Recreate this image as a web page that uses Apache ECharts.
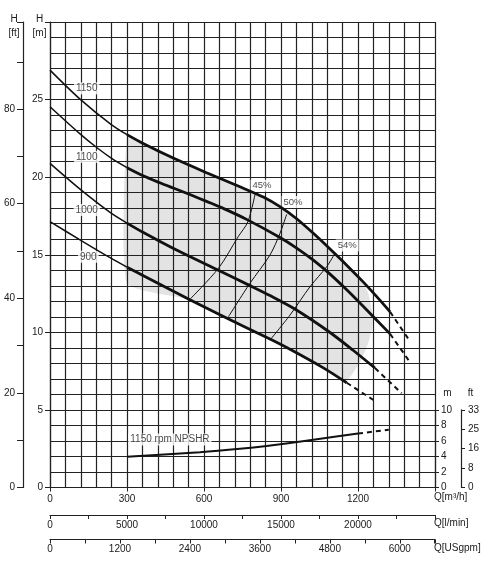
<!DOCTYPE html>
<html><head><meta charset="utf-8">
<script src="https://cdn.jsdelivr.net/npm/echarts@6/dist/echarts.min.js"></script>
<style>html,body{margin:0;padding:0;background:#fff}#c{width:484px;height:567px}</style>
</head><body><div id="c"></div>
<script>
// ---- data ----
const speeds = ['1150', '1100', '1000', '900'];
const q1150 = [0, 117, 240, 300, 363, 480, 610, 740, 831, 896, 961, 1026, 1091, 1156, 1220, 1286, 1325];
const h1150 = [26.9, 25.03, 23.37, 22.74, 22.17, 21.23, 20.29, 19.38, 18.72, 18.10, 17.32, 16.38, 15.37, 14.33, 13.25, 12.06, 11.32];
const q1100 = [0, 117, 182, 240, 300, 363, 428, 480, 545, 610, 675, 766, 896, 961, 1026, 1091, 1156, 1220, 1325];
const h1100 = [24.54, 22.79, 21.91, 21.21, 20.61, 20.09, 19.64, 19.30, 18.88, 18.44, 17.99, 17.28, 16.11, 15.43, 14.65, 13.75, 12.74, 11.68, 9.9];
const q1000 = [0, 117, 234, 300, 364, 493, 662, 779, 857, 954, 1091, 1182, 1266];
const h1000 = [20.89, 19.23, 17.73, 17.04, 16.43, 15.30, 13.95, 13.01, 12.37, 11.50, 9.99, 8.83, 7.7];
const q900 = [0, 117, 234, 300, 364, 545, 662, 857, 935, 1065, 1156];
const h900 = [17.13, 15.96, 14.81, 14.20, 13.64, 12.10, 11.13, 9.57, 8.91, 7.71, 6.75];
// dashed extensions (end points)
const qEnd = [1402, 1402, 1370, 1260];
const hEnd = [9.44, 8.09, 6.07, 5.64];
const qSplit = 300; // thin part left of this flow

// efficiency lines
const effNames = ['45%', '50%', '54%'];
const q45 = [545, 656, 733, 771, 799];
const h45 = [12.13, 14.12, 16.16, 17.13, 18.9];
const q50 = [695, 779, 857, 896, 922];
const h50 = [11.0, 13.16, 14.98, 16.38, 17.6];
const q54 = [857, 935, 1013, 1078, 1110];
const h54 = [9.5, 11.11, 12.94, 14.23, 15.09];

// shaded operating region outline
const grayQ = [300, 363, 480, 610, 740, 831, 896, 961, 1026, 1091, 1156, 1220, 1240, 1255, 1255, 1240, 1215, 1185, 1156, 1065, 935, 857, 662, 545, 300];
const grayH = [22.74, 22.17, 21.23, 20.29, 19.38, 18.72, 18.1, 17.32, 16.38, 15.37, 14.33, 13.25, 12.5, 11.3, 10.3, 9.3, 8.3, 7.5, 6.9, 7.71, 8.91, 9.57, 11.13, 12.1, 13.16];

// NPSHR (m)
const npshQ = [300, 584, 740, 844, 1026, 1200];
const npshM = [3.97, 4.55, 4.98, 5.35, 6.15, 6.95];
const npshEnd = [1320, 7.45];
const npshLabel = '1150 rpm NPSHR';

// annotation anchors (data coords)
const speedLabelQ = [143, 143, 143, 149];
const speedLabelH = [25.72, 21.31, 17.88, 14.87];
const effLabelQ = [826, 947, 1158];
const effLabelH = [19.45, 18.4, 15.6];
const npshLabelQ = 305, npshLabelH = 3.09;

// tick labels
const qm3Ticks = ['0', '300', '600', '900', '1200'];
const qlminTicks = ['0', '5000', '10000', '15000', '20000'];
const qgpmTicks = ['0', '1200', '2400', '3600', '4800', '6000'];
const hmTicks = ['0', '5', '10', '15', '20', '25'];
const hftTicks = ['0', '20', '40', '60', '80'];
const npshmTicks = ['0', '2', '4', '6', '8', '10'];
const npshftTicks = ['0', '8', '16', '25', '33'];

// ---- rendering ----
const FONT = 'Liberation Sans';
const TXT = '#1a1a1a';
const GRID = '#222';
const INK = '#111';

function pts(q, h) { return q.map((v, i) => [v, h[i]]); }
const curveQ = [q1150, q1100, q1000, q900];
const curveH = [h1150, h1100, h1000, h900];

const series = [];
series.push({
  type: 'custom', xAxisIndex: 0, yAxisIndex: 0, z: -1, silent: true, clip: false,
  data: [[0, 0]],
  renderItem: function (params, api) {
    return {
      type: 'polygon',
      shape: { points: grayQ.map((q, i) => api.coord([q, grayH[i]])), smooth: 0.15 },
      style: { fill: '#e3e3e3', stroke: null }
    };
  }
});

speeds.forEach((s, k) => {
  const all = pts(curveQ[k], curveH[k]);
  const thin = all.filter(p => p[0] <= qSplit);
  const thick = all.filter(p => p[0] >= qSplit);
  const last = all[all.length - 1];
  series.push({ type: 'line', xAxisIndex: 0, yAxisIndex: 0, data: thin, symbol: 'none', smooth: 0.3, z: 3,
    lineStyle: { color: INK, width: 1.5 } });
  series.push({ type: 'line', xAxisIndex: 0, yAxisIndex: 0, data: thick, symbol: 'none', smooth: 0.3, z: 3,
    lineStyle: { color: INK, width: 2.8 } });
  series.push({ type: 'line', xAxisIndex: 0, yAxisIndex: 0, data: [last, [qEnd[k], hEnd[k]]], symbol: 'none', z: 3,
    lineStyle: { color: INK, width: 2, type: [5, 4] } });
});

[[q45, h45], [q50, h50], [q54, h54]].forEach(([q, h]) => {
  series.push({ type: 'line', xAxisIndex: 0, yAxisIndex: 0, data: pts(q, h), symbol: 'none', smooth: 0.3, z: 3,
    lineStyle: { color: INK, width: 1 } });
});

const boxLabel = (fs) => ({
  show: true, position: 'inside', formatter: '{b}', color: TXT, fontFamily: FONT, fontSize: fs,
  backgroundColor: '#fff', padding: [1, 2]
});
series.push({
  type: 'scatter', xAxisIndex: 0, yAxisIndex: 0, symbolSize: 0, z: 2, silent: true,
  data: speeds.map((s, i) => ({ name: s, value: [speedLabelQ[i], speedLabelH[i]] })),
  label: boxLabel(10)
});
series.push({
  type: 'scatter', xAxisIndex: 0, yAxisIndex: 0, symbolSize: 0, z: 2, silent: true,
  data: effNames.map((s, i) => ({ name: s, value: [effLabelQ[i], effLabelH[i]] })),
  label: boxLabel(9.5)
});
series.push({
  type: 'scatter', xAxisIndex: 0, yAxisIndex: 0, symbolSize: 0, z: 2, silent: true,
  data: [{ name: npshLabel, value: [npshLabelQ, npshLabelH] }],
  label: Object.assign(boxLabel(10), { position: 'right', distance: 0 })
});

// NPSHR on its own small grid
const npshPts = pts(npshQ, npshM);
series.push({ type: 'line', xAxisIndex: 3, yAxisIndex: 2, data: npshPts, symbol: 'none', smooth: 0.3, z: 3,
  lineStyle: { color: INK, width: 2 } });
series.push({ type: 'line', xAxisIndex: 3, yAxisIndex: 2, data: [npshPts[npshPts.length - 1], npshEnd], symbol: 'none', z: 3,
  lineStyle: { color: INK, width: 2, type: [5, 4] } });

const axLine = { show: true, onZero: false, lineStyle: { color: GRID, width: 1.2 } };
const lbl = (extra) => Object.assign({ color: TXT, fontFamily: FONT, fontSize: 10 }, extra);
const split = { show: true, lineStyle: { color: GRID, width: 1.2 } };

const option = {
  animation: false,
  backgroundColor: '#fff',
  grid: [
    { left: 50, right: 49, top: 22, height: 465.5 },
    { left: 50, right: 49, top: 409.9, height: 77.6 }
  ],
  xAxis: [
    { gridIndex: 0, type: 'value', min: 0, max: 1500, interval: 300, position: 'bottom',
      axisLine: axLine, axisTick: { show: true, length: 4, lineStyle: { color: GRID } },
      minorTick: { show: false, splitNumber: 5 }, splitLine: split, minorSplitLine: split,
      axisLabel: lbl({ margin: 7, formatter: v => (v % 300 === 0 && qm3Ticks[v / 300] !== undefined) ? qm3Ticks[v / 300] : '' }) },
    { gridIndex: 0, type: 'value', min: 0, max: 25000, interval: 2500, position: 'bottom', offset: 27.5,
      axisLine: axLine, axisTick: { show: true, length: 4, lineStyle: { color: GRID } }, splitLine: { show: false },
      axisLabel: lbl({ margin: 5, formatter: v => (v % 5000 === 0 && qlminTicks[v / 5000] !== undefined) ? qlminTicks[v / 5000] : '' }) },
    { gridIndex: 0, type: 'value', min: 0, max: 6604.3, interval: 600, position: 'bottom', offset: 52,
      axisLine: axLine, axisTick: { show: true, length: 4, lineStyle: { color: GRID } }, splitLine: { show: false },
      axisLabel: lbl({ margin: 5, formatter: v => (v % 1200 === 0 && qgpmTicks[v / 1200] !== undefined) ? qgpmTicks[v / 1200] : '' }) },
    { gridIndex: 1, type: 'value', min: 0, max: 1500, show: false }
  ],
  yAxis: [
    { gridIndex: 0, type: 'value', min: 0, max: 30, interval: 5, position: 'left',
      axisLine: axLine, axisTick: { show: true, length: 5, lineStyle: { color: GRID } },
      minorTick: { show: false, splitNumber: 5 }, splitLine: split, minorSplitLine: split,
      axisLabel: lbl({ margin: 7, formatter: v => (v % 5 === 0 && hmTicks[v / 5] !== undefined) ? hmTicks[v / 5] : '' }) },
    { gridIndex: 0, type: 'value', min: 0, max: 98.425, interval: 10, position: 'left', offset: 27,
      axisLine: axLine, axisTick: { show: true, length: 6, lineStyle: { color: GRID } }, splitLine: { show: false },
      axisLabel: lbl({ margin: 8, formatter: v => (v % 20 === 0 && hftTicks[v / 20] !== undefined) ? hftTicks[v / 20] : '' }) },
    { gridIndex: 1, type: 'value', min: 0, max: 10, interval: 2, position: 'right',
      axisLine: axLine, axisTick: { show: true, length: 4, lineStyle: { color: GRID } }, splitLine: { show: false },
      axisLabel: lbl({ margin: 6, formatter: v => npshmTicks[Math.round(v / 2)] || '' }) },
    { gridIndex: 1, type: 'value', min: 0, max: 32.81, interval: 8.2025, position: 'right', offset: 26,
      axisLine: axLine, axisTick: { show: true, length: 4, lineStyle: { color: GRID } }, splitLine: { show: false },
      axisLabel: lbl({ margin: 7, formatter: v => npshftTicks[Math.round(v / 8.2025)] || '' }) }
  ],
  graphic: [
    { type: 'text', x: 14, y: 12, style: { text: 'H\n[ft]', fill: TXT, font: '10px ' + FONT, align: 'center', textAlign: 'center', lineHeight: 14 } },
    { type: 'text', x: 39.5, y: 12, style: { text: 'H\n[m]', fill: TXT, font: '10px ' + FONT, align: 'center', textAlign: 'center', lineHeight: 14 } },
    { type: 'text', x: 447.5, y: 393, style: { text: 'm', fill: TXT, font: '10px ' + FONT, align: 'center', textAlign: 'center', verticalAlign: 'middle', textVerticalAlign: 'middle' } },
    { type: 'text', x: 470.5, y: 393, style: { text: 'ft', fill: TXT, font: '10px ' + FONT, align: 'center', textAlign: 'center', verticalAlign: 'middle', textVerticalAlign: 'middle' } },
    { type: 'text', x: 434, y: 497, style: { text: 'Q[m³/h]', fill: TXT, font: '10px ' + FONT, align: 'left', textAlign: 'left', verticalAlign: 'middle', textVerticalAlign: 'middle' } },
    { type: 'text', x: 434, y: 523, style: { text: 'Q[l/min]', fill: TXT, font: '10px ' + FONT, align: 'left', textAlign: 'left', verticalAlign: 'middle', textVerticalAlign: 'middle' } },
    { type: 'text', x: 434, y: 548.5, style: { text: 'Q[USgpm]', fill: TXT, font: '10px ' + FONT, align: 'left', textAlign: 'left', verticalAlign: 'middle', textVerticalAlign: 'middle' } }
  ],
  series: series
};

const chart = echarts.init(document.getElementById('c'));
chart.setOption(option);
</script>
</body></html>
